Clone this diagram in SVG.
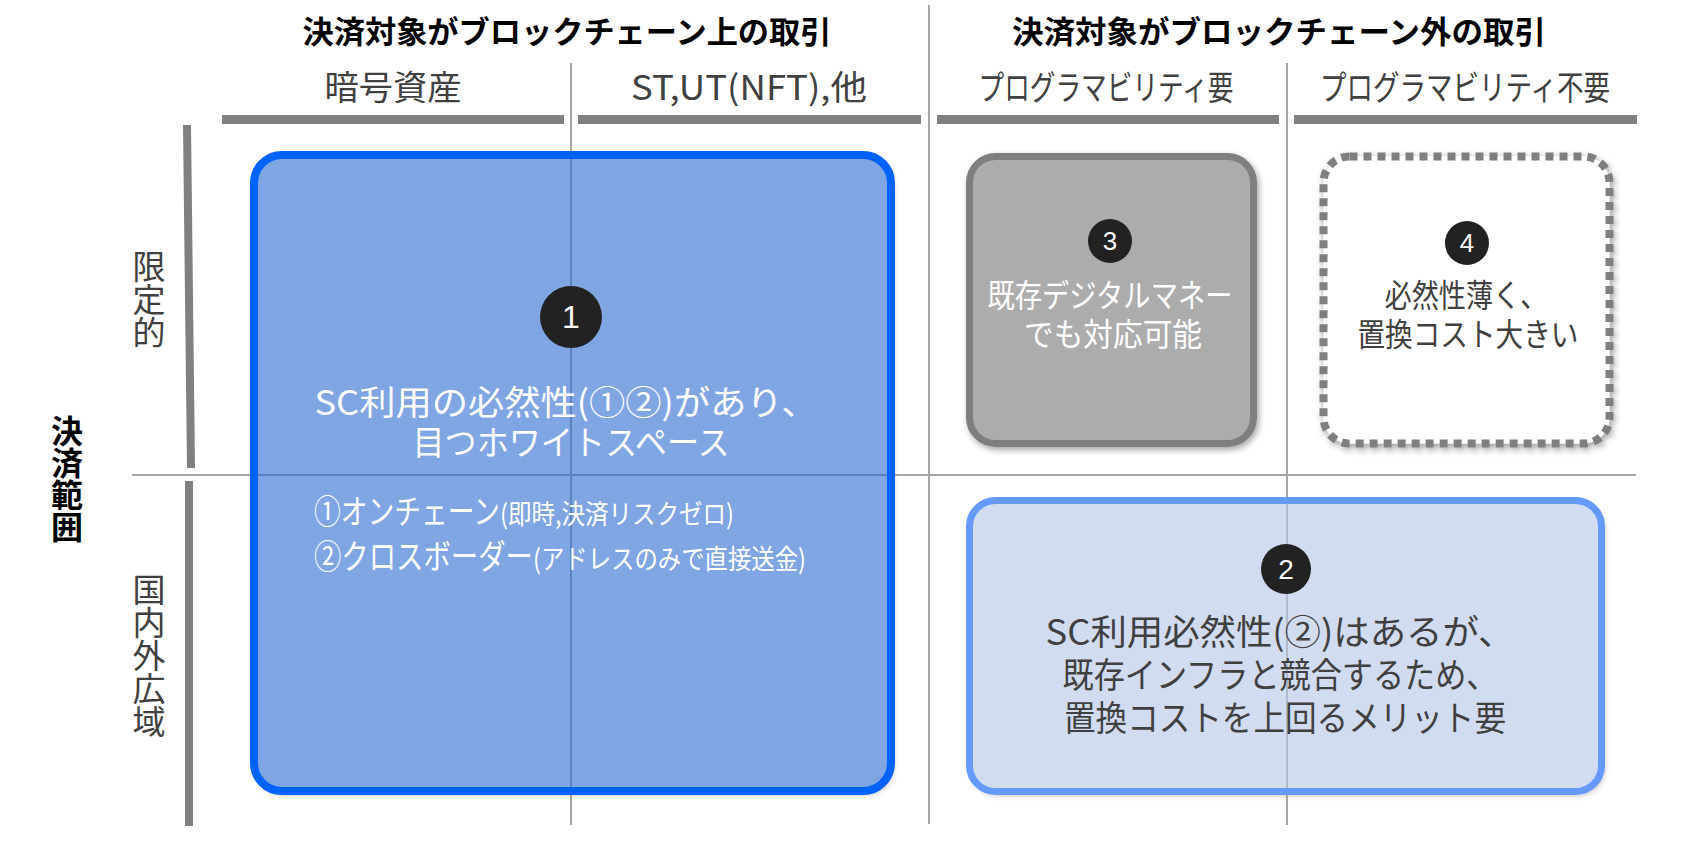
<svg xmlns="http://www.w3.org/2000/svg" width="1693" height="845" viewBox="0 0 1693 845">
<style>
text{font-family:"Noto Sans CJK JP","Noto Sans",sans-serif;}
.head{font-size:31px;font-weight:bold;fill:#000;text-anchor:middle;}
.sub{font-size:34px;fill:#404040;text-anchor:middle;}
.side{font-size:33px;fill:#404040;writing-mode:vertical-rl;}
.grid{stroke:#a6a6a6;stroke-width:2;fill:none;}
.bar{stroke:#808080;stroke-width:9;}
.axis{stroke:#808080;stroke-width:8;}
.num{font-family:"Liberation Sans","Noto Sans",sans-serif;fill:#fff;text-anchor:middle;}
.badge{fill:#222;}
.wt{fill:#fff;text-anchor:middle;}
.dk{fill:#404040;text-anchor:middle;}
</style>
<defs>
<filter id="sh" x="-10%" y="-10%" width="120%" height="120%">
<feDropShadow dx="2" dy="3" stdDeviation="3" flood-color="#000" flood-opacity="0.35"/>
</filter>
</defs>
<rect width="1693" height="845" fill="#fff"/>

<g id="shadows" filter="url(#sh)">
<rect x="254" y="155" width="637" height="636" rx="28" fill="#fff"/>
<rect x="969.5" y="500.5" width="632" height="291" rx="26" fill="#fff"/>
</g>

<g id="headers">
<text class="head" x="567" y="43" textLength="529" lengthAdjust="spacingAndGlyphs">決済対象がブロックチェーン上の取引</text>
<text class="head" x="1279" y="43" textLength="534" lengthAdjust="spacingAndGlyphs">決済対象がブロックチェーン外の取引</text>
<text class="sub" x="393" y="100" textLength="137" lengthAdjust="spacingAndGlyphs">暗号資産</text>
<text class="sub" x="749" y="100" textLength="236" lengthAdjust="spacingAndGlyphs">ST,UT(NFT),他</text>
<text class="sub" x="1106" y="100" textLength="255" lengthAdjust="spacingAndGlyphs">プログラマビリティ要</text>
<text class="sub" x="1465" y="100" textLength="290" lengthAdjust="spacingAndGlyphs">プログラマビリティ不要</text>
<line class="bar" x1="222" y1="119.5" x2="564" y2="119.5"/>
<line class="bar" x1="578" y1="119.5" x2="921" y2="119.5"/>
<line class="bar" x1="937" y1="119.5" x2="1279" y2="119.5"/>
<line class="bar" x1="1294" y1="119.5" x2="1637" y2="119.5"/>
</g>

<g id="side-axis">
<text x="67" y="415" font-size="32" font-weight="bold" fill="#000" style="writing-mode:vertical-rl">決済範囲</text>
<text class="side" x="149" y="250">限定的</text>
<text class="side" x="149" y="573">国内外広域</text>
<line class="axis" x1="187" y1="125" x2="191" y2="468"/>
<line class="axis" x1="189" y1="481" x2="189" y2="826"/>
</g>

<g id="grid-lines">
<line class="grid" x1="929" y1="5" x2="929" y2="824" stroke-width="2.5"/>
<line class="grid" x1="571" y1="63" x2="571" y2="825"/>
<line class="grid" x1="1287" y1="63" x2="1287" y2="825"/>
<line class="grid" x1="132" y1="475" x2="1636" y2="475"/>
</g>

<g id="node-1">
<rect x="254" y="155" width="637" height="636" rx="28" fill="#2a6bd0" fill-opacity="0.6" stroke="#0062ff" stroke-width="8"/>
<circle class="badge" cx="571" cy="317" r="31"/>
<text class="num" x="571" y="328" font-size="32">1</text>
<text class="wt" font-size="34" x="566" y="415" textLength="503" lengthAdjust="spacingAndGlyphs">SC利用の必然性(①②)があり、</text>
<text class="wt" font-size="34" x="571" y="455" textLength="317" lengthAdjust="spacingAndGlyphs">目つホワイトスペース</text>
<text fill="#fff"><tspan x="314" y="524" font-size="34" textLength="186" lengthAdjust="spacingAndGlyphs">①オンチェーン</tspan><tspan x="500" y="524" font-size="27" textLength="234" lengthAdjust="spacingAndGlyphs">(即時,決済リスクゼロ)</tspan></text>
<text fill="#fff"><tspan x="314" y="569" font-size="34" textLength="219" lengthAdjust="spacingAndGlyphs">②クロスボーダー</tspan><tspan x="533" y="569" font-size="27" textLength="273" lengthAdjust="spacingAndGlyphs">(アドレスのみで直接送金)</tspan></text>
</g>

<g id="node-3">
<rect x="969.5" y="156.5" width="284" height="287" rx="26" fill="#acacac" stroke="#7f7f7f" stroke-width="7" filter="url(#sh)"/>
<circle class="badge" cx="1110" cy="241" r="22"/>
<text class="num" x="1110" y="250" font-size="26">3</text>
<text class="wt" font-size="32" x="1110" y="307" textLength="245" lengthAdjust="spacingAndGlyphs">既存デジタルマネー</text>
<text class="wt" font-size="32" x="1113" y="346" textLength="178" lengthAdjust="spacingAndGlyphs">でも対応可能</text>
</g>

<g id="node-4">
<rect x="1323.5" y="156.5" width="286" height="287" rx="26" fill="#fff" stroke="#7f7f7f" stroke-width="8" stroke-dasharray="8 6" filter="url(#sh)"/>
<circle class="badge" cx="1467" cy="243" r="22"/>
<text class="num" x="1467" y="252" font-size="26">4</text>
<text class="dk" font-size="32" x="1466" y="307" textLength="163" lengthAdjust="spacingAndGlyphs" fill="#262626">必然性薄く、</text>
<text class="dk" font-size="32" x="1468" y="346" textLength="221" lengthAdjust="spacingAndGlyphs" fill="#262626">置換コスト大きい</text>
</g>

<g id="node-2">
<rect x="969.5" y="500.5" width="632" height="291" rx="26" fill="#b4c7e7" fill-opacity="0.62" stroke="#6699ff" stroke-width="7"/>
<circle class="badge" cx="1286" cy="569" r="25"/>
<text class="num" x="1286" y="579" font-size="28">2</text>
<text class="dk" font-size="35" x="1280" y="645" textLength="469" lengthAdjust="spacingAndGlyphs">SC利用必然性(②)はあるが、</text>
<text class="dk" font-size="35" x="1280" y="688" textLength="435" lengthAdjust="spacingAndGlyphs">既存インフラと競合するため、</text>
<text class="dk" font-size="35" x="1285" y="731" textLength="442" lengthAdjust="spacingAndGlyphs">置換コストを上回るメリット要</text>
</g>
</svg>
